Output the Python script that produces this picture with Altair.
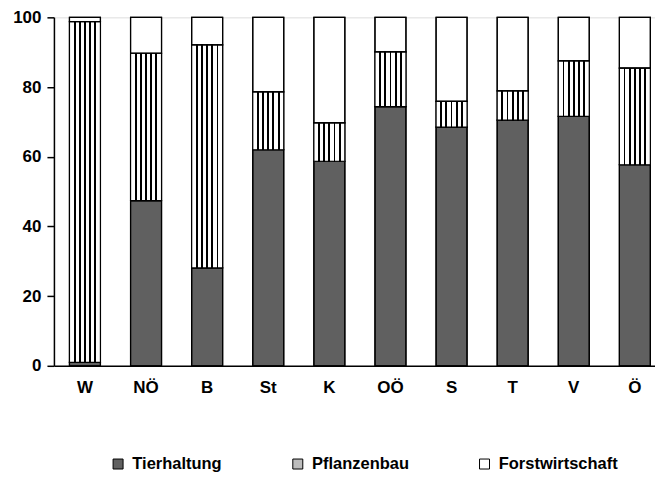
import altair as alt
import pandas as pd

regions = ["W", "NÖ", "B", "St", "K", "OÖ", "S", "T", "V", "Ö"]
categories = ["Tierhaltung", "Pflanzenbau", "Forstwirtschaft"]
tierhaltung = [1.0, 47.4, 28.1, 62.0, 58.7, 74.4, 68.5, 70.5, 71.6, 57.7]
pflanzenbau = [97.8, 42.3, 64.0, 16.6, 11.0, 15.7, 7.4, 8.4, 15.9, 27.7]
forstwirtschaft = [1.2, 10.3, 7.9, 21.4, 30.3, 9.9, 24.1, 21.1, 12.5, 14.6]
y_ticks = [0, 20, 40, 60, 80, 100]

rows = []
for i, r in enumerate(regions):
    for k, (cat, vals) in enumerate(zip(categories, [tierhaltung, pflanzenbau, forstwirtschaft])):
        rows.append({"region": r, "cat": cat, "value": vals[i], "ord": k})
df = pd.DataFrame(rows)

# vertical stripes for Pflanzenbau
stops = [{"offset": 0, "color": "white"}]
for c in [1/6, 2/6, 3/6, 4/6, 5/6]:
    stops += [
        {"offset": c - 0.03, "color": "white"},
        {"offset": c - 0.03, "color": "black"},
        {"offset": c + 0.03, "color": "black"},
        {"offset": c + 0.03, "color": "white"},
    ]
stops.append({"offset": 1, "color": "white"})
stripes = {"gradient": "linear", "x1": 0, "y1": 0, "x2": 1, "y2": 0, "stops": stops}

FONT = "Liberation Sans"

base = alt.Chart(df).encode(
    x=alt.X("region:N", sort=regions, title=None,
            scale=alt.Scale(paddingInner=0.493, paddingOuter=0.165, align=0.77),
            axis=alt.Axis(labelAngle=0, ticks=False, domainColor="black", domainWidth=1.5,
                          labelFont=FONT, labelFontSize=17, labelFontWeight="bold",
                          labelColor="black", labelPadding=14)),
    y=alt.Y("value:Q", stack="zero", title=None,
            scale=alt.Scale(domain=[0, 100], nice=False),
            axis=alt.Axis(values=y_ticks, grid=False, tickSize=7, tickColor="black", tickWidth=1.5,
                          domainColor="black", domainWidth=1.5,
                          labelFont=FONT, labelFontSize=17, labelFontWeight="bold",
                          labelColor="black", labelPadding=6)),
    order=alt.Order("ord:Q"),
    detail="cat:N",
)

layer1 = base.mark_bar(stroke="black", strokeWidth=1.2).encode(
    fill=alt.Fill("cat:N", sort=categories,
                  scale=alt.Scale(domain=categories, range=["#606060", "#bdbdbd", "#ffffff"]),
                  legend=alt.Legend(orient="none", legendX=56, legendY=439, direction="horizontal",
                                    title=None, symbolType="square", symbolSize=100,
                                    symbolStrokeColor="black", symbolStrokeWidth=1,
                                    labelFont=FONT, labelFontSize=16.5, labelFontWeight="bold",
                                    labelColor="black", columnPadding=67, labelOffset=6))
)

layer2 = base.mark_bar(stroke="black", strokeWidth=1.2).encode(
    fill=alt.condition(alt.datum.cat == "Pflanzenbau", alt.value(stripes), alt.value("transparent"))
)

chart = alt.layer(layer1, layer2).properties(
    width=602, height=349,
    padding={"left": 4, "top": 0, "right": 0, "bottom": 0},
).configure_view(stroke=None).configure(font=FONT)

chart.save("out.html", embed_options={"renderer": "svg", "actions": False})
